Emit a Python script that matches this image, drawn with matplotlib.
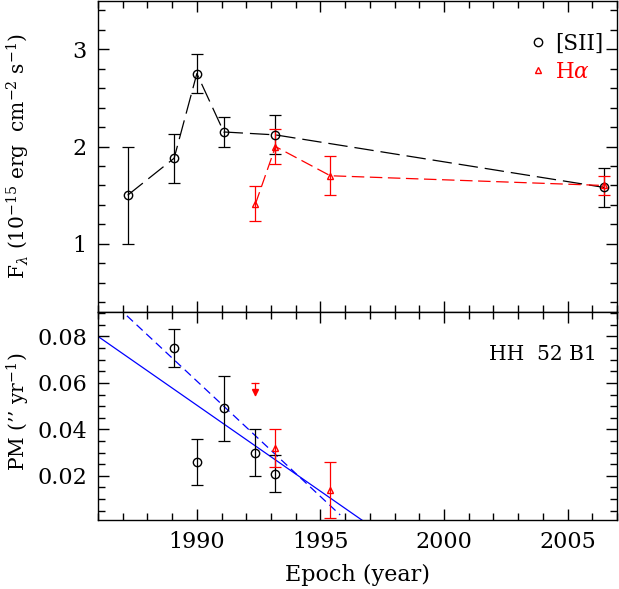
import numpy as np
import matplotlib
matplotlib.use('Agg')
import matplotlib.pyplot as plt
from matplotlib.ticker import MultipleLocator

plt.rcParams['font.family'] = ['DejaVu Serif']
plt.rcParams['mathtext.fontset'] = 'dejavuserif'
plt.rcParams['font.size'] = 15.5
plt.rcParams['lines.scale_dashes'] = False

# top panel: line fluxes (1e-15 erg cm-2 s-1)
sii_epoch = [1987.2, 1989.08, 1990.0, 1991.09, 1993.18, 2006.48]
sii_flux = [1.50, 1.88, 2.75, 2.15, 2.12, 1.58]
sii_flux_err = [0.50, 0.25, 0.20, 0.15, 0.20, 0.20]

ha_epoch = [1992.37, 1993.18, 1995.4, 2006.48]
ha_flux = [1.41, 2.00, 1.70, 1.60]
ha_flux_err = [0.18, 0.18, 0.20, 0.10]

# bottom panel: proper motions (arcsec/yr)
sii_pm_epoch = [1989.08, 1990.0, 1991.09, 1992.37, 1993.18]
sii_pm = [0.075, 0.026, 0.049, 0.030, 0.021]
sii_pm_err = [0.008, 0.010, 0.014, 0.010, 0.008]

ha_pm_epoch = [1993.18, 1995.4]
ha_pm = [0.032, 0.014]
ha_pm_err = [0.008, 0.012]

# H-alpha upper limit
ha_lim_epoch = 1992.37
ha_lim_value = 0.060

# linear fits: pm = a + b * (epoch - 1986)
fit_solid = (0.080, -0.0074)
fit_dashed = (0.1005, -0.00993)
fit_dashed_end = 1995.8

fig = plt.figure(figsize=(6.19, 5.89), dpi=100)
ax1 = fig.add_axes([0.1583, 0.4703, 0.8385, 0.5287])
ax2 = fig.add_axes([0.1583, 0.1171, 0.8385, 0.3532])

for ax in (ax1, ax2):
    ax.set_xlim(1986, 2007)
    ax.xaxis.set_major_locator(MultipleLocator(5))
    ax.xaxis.set_minor_locator(MultipleLocator(1))
    ax.tick_params(which='both', direction='in', top=True, right=True, width=1)
    ax.tick_params(which='major', length=8, pad=8, labelsize=16)
    ax.tick_params(which='minor', length=5)
    for s in ax.spines.values():
        s.set_linewidth(1)

ebkw = dict(elinewidth=0.9, capsize=4.5, capthick=0.9, zorder=3)

# --- top panel
ax1.errorbar(sii_epoch, sii_flux, yerr=sii_flux_err, fmt='o', mfc='none', mec='black',
             ms=6, color='black', ecolor='black', **ebkw)
ax1.plot(sii_epoch, sii_flux, color='black', lw=0.9, ls=(0, (14, 5)), zorder=2)
ax1.errorbar(ha_epoch, ha_flux, yerr=ha_flux_err, fmt='^', mfc='none', mec='red',
             ms=5, color='red', ecolor='red', **ebkw)
ax1.plot(ha_epoch, ha_flux, color='red', lw=0.9, ls=(0, (9, 4)), zorder=2)

ax1.set_ylim(0.3, 3.5)
ax1.yaxis.set_major_locator(MultipleLocator(1))
ax1.yaxis.set_minor_locator(MultipleLocator(0.2))
ax1.tick_params(labelbottom=False)
ax1.set_ylabel(r'F$_\lambda$ (10$^{-15}$ erg  cm$^{-2}$ s$^{-1}$)', fontsize=14.5)
ax1.yaxis.set_label_coords(-0.128, 0.5)

h1, = ax1.plot([], [], 'o', mfc='none', mec='black', ms=6, label='[SII]')
h2, = ax1.plot([], [], '^', mfc='none', mec='red', ms=4, label=r'H$\alpha$')
ax1.legend(handles=[h1, h2], loc='upper right', bbox_to_anchor=(0.99, 0.925),
           frameon=False, handlelength=0.6, handletextpad=0.5, labelspacing=0.3,
           labelcolor=['black', 'red'], borderaxespad=0, fontsize=15.5)

# --- bottom panel
xs = np.array([1986, 2007])
ax2.plot(xs, fit_solid[0] + fit_solid[1] * (xs - 1986), color='blue', lw=0.9, zorder=1)
xd = np.array([1986, fit_dashed_end])
ax2.plot(xd, fit_dashed[0] + fit_dashed[1] * (xd - 1986), color='blue', lw=0.9,
         ls=(0, (6, 3.5)), zorder=1)

ax2.errorbar(sii_pm_epoch, sii_pm, yerr=sii_pm_err, fmt='o', mfc='none', mec='black',
             ms=6, color='black', ecolor='black', **ebkw)
ax2.errorbar(ha_pm_epoch, ha_pm, yerr=ha_pm_err, fmt='^', mfc='none', mec='red',
             ms=5, color='red', ecolor='red', **ebkw)
# upper limit: short bar with cap and downward arrow head
ax2.plot([ha_lim_epoch, ha_lim_epoch], [ha_lim_value, ha_lim_value - 0.005], color='red', lw=0.9)
ax2.plot([ha_lim_epoch], [ha_lim_value], marker='_', color='red', ms=6, mew=0.9)
ax2.plot([ha_lim_epoch], [ha_lim_value - 0.004], marker='v', color='red', ms=4)

ax2.set_ylim(0.001, 0.0905)
ax2.yaxis.set_major_locator(MultipleLocator(0.02))
ax2.yaxis.set_minor_locator(MultipleLocator(0.005))
ax2.set_ylabel('PM (\u2019\u2019 yr$^{-1}$)', fontsize=14.5)
ax2.yaxis.set_label_coords(-0.128, 0.52)
ax2.set_xlabel('Epoch (year)', labelpad=8, fontsize=16)
ax2.text(0.961, 0.798, 'HH  52 B1', transform=ax2.transAxes, ha='right', va='center',
         fontsize=14.5)

fig.savefig('out.png', dpi=100)
